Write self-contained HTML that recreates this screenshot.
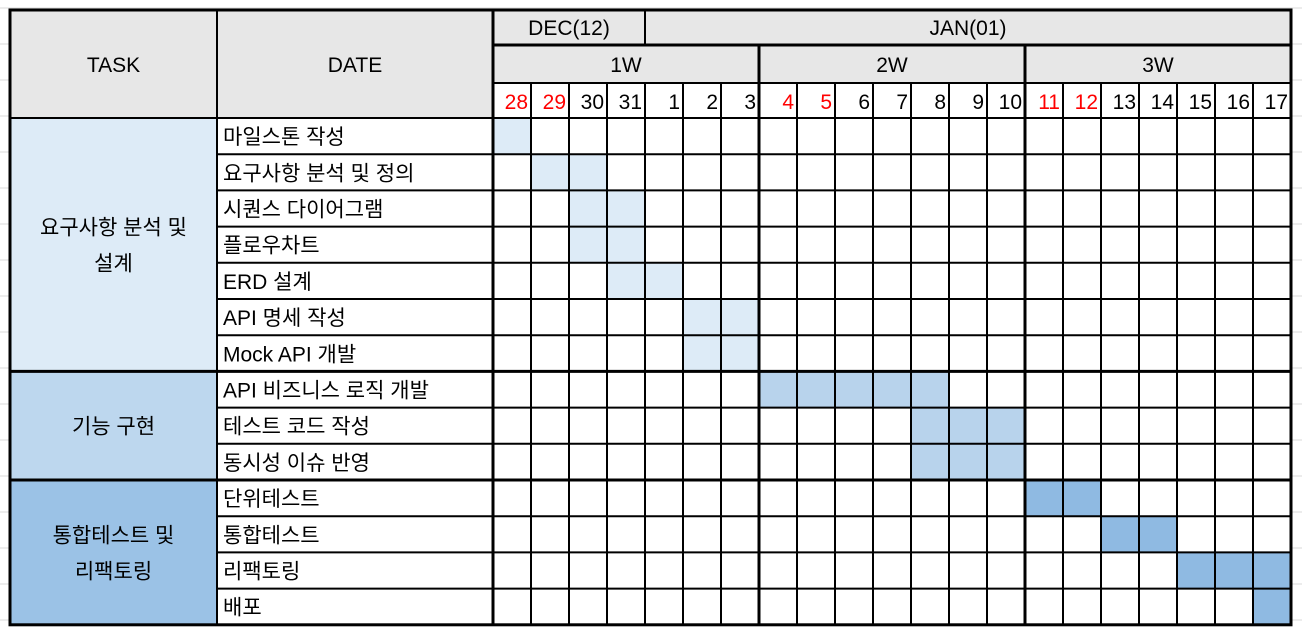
<!DOCTYPE html>
<html><head><meta charset="utf-8"><style>
html,body{margin:0;padding:0;background:#fff;}
svg{display:block;font-family:"Liberation Sans","Noto Sans CJK KR",sans-serif;}
</style></head><body>
<svg id="c" width="1302" height="632"></svg>
<script>
const days = [28,29,30,31,1,2,3,4,5,6,7,8,9,10,11,12,13,14,15,16,17];
const weekend = [true,true,false,false,false,false,false,true,true,false,false,false,false,false,true,true,false,false,false,false,false];
const weeks = ["1W","2W","3W"];
const tasks = ["마일스톤 작성","요구사항 분석 및 정의","시퀀스 다이어그램","플로우차트","ERD 설계","API 명세 작성","Mock API 개발","API 비즈니스 로직 개발","테스트 코드 작성","동시성 이슈 반영","단위테스트","통합테스트","리팩토링","배포"];
const taskStart = [0,1,2,2,3,5,5,7,11,11,14,16,18,20];
const taskEnd   = [0,2,3,3,4,6,6,11,13,13,15,17,20,20];
const taskGroup = [0,0,0,0,0,0,0,1,1,1,2,2,2,2];
const groupNames = [["요구사항 분석 및","설계"],["기능 구현"],["통합테스트 및","리팩토링"]];
const groupFill = ["#DDEBF7","#BDD7EE","#9BC2E6"];
const barFill = ["#DDEBF7","#B8D3EC","#8FBAE2"];

const svg=document.getElementById('c');const NS='http://www.w3.org/2000/svg';
function el(t,a,txt){const e=document.createElementNS(NS,t);for(const k in a)e.setAttribute(k,a[k]);if(txt!==undefined)e.textContent=txt;svg.appendChild(e);return e;}
const X0=10,X1=217,X2=493,CW=38,Y0=10,YD=45,YW=83,YH=118,RH=36.2,FS=21;
const xDay=i=>X2+i*CW, yRow=i=>YH+i*RH;
const XR=xDay(days.length), YB=yRow(tasks.length);
for(let y=8;y<632;y+=36){el('line',{x1:0,x2:1302,y1:y,y2:y,stroke:'#d8d8d8','stroke-width':1});}
let r=el('rect',{x:X0,y:Y0,width:XR-X0,height:YH-Y0,fill:'#E7E7E7'});

r=el('rect',{x:X2,y:YW,width:XR-X2,height:YH-YW,fill:'#fff'});

r=el('rect',{x:X1,y:YH,width:XR-X1,height:YB-YH,fill:'#fff'});
const gStart=[],gEnd=[];
taskGroup.forEach((g,i)=>{if(gStart[g]===undefined)gStart[g]=i;gEnd[g]=i;});
groupNames.forEach((n,g)=>{
 const y1=yRow(gStart[g]),y2=yRow(gEnd[g]+1);
 let rr=el('rect',{x:X0,y:y1,width:X1-X0,height:y2-y1,fill:groupFill[g]});
 
 const cy=(y1+y2)/2, off=(n.length-1)*18;
 n.forEach((s,k)=>{let t=el('text',{x:(X0+X1)/2,y:cy-off+k*36+8,'font-size':FS,'text-anchor':'middle',fill:'#000'},s);
 });
});
tasks.forEach((n,i)=>{
 const g=taskGroup[i];
 let b=el('rect',{x:xDay(taskStart[i]),y:yRow(i),width:(taskEnd[i]-taskStart[i]+1)*CW,height:RH,fill:barFill[g]});
 
 let t=el('text',{x:X1+6,y:yRow(i)+RH/2+8,'font-size':FS,fill:'#000'},n);
 
});
let t=el('text',{x:(X0+X1)/2,y:72,'font-size':FS,'text-anchor':'middle'},'TASK');

t=el('text',{x:(X1+X2)/2,y:72,'font-size':FS,'text-anchor':'middle'},'DATE');

t=el('text',{x:(X2+xDay(4))/2,y:35,'font-size':FS,'text-anchor':'middle'},'DEC(12)');

t=el('text',{x:(xDay(4)+XR)/2,y:35,'font-size':FS,'text-anchor':'middle'},'JAN(01)');

weeks.forEach((w,k)=>{let tt=el('text',{x:xDay(k*7+3.5),y:72,'font-size':FS,'text-anchor':'middle'},w);
 });
days.forEach((d,i)=>{let tt=el('text',{x:xDay(i+1)-3,y:109,'font-size':FS,'text-anchor':'end',fill:weekend[i]?'#FF0000':'#000'},d);
 });
function L(x1,y1,x2,y2,w){el('line',{x1,y1,x2,y2,stroke:'#000','stroke-width':w});}
for(let i=1;i<days.length;i++){L(xDay(i),YW,xDay(i),YB,i%7===0?3:2);}
L(xDay(7),YD,xDay(7),YW,3);L(xDay(14),YD,xDay(14),YW,3);
L(xDay(4),Y0,xDay(4),YD,2);
for(let i=1;i<tasks.length;i++){const th=taskGroup[i]!==taskGroup[i-1];L(th?X0:X1,yRow(i),XR,yRow(i),th?3:2);}
L(X2,YW,XR,YW,2);L(X2,YD,XR,YD,3);
L(X0,YH,XR,YH,2);
L(X1,Y0,X1,YB,2);L(X2,Y0,X2,YB,3);
el('rect',{x:X0,y:Y0,width:XR-X0,height:YB-Y0,fill:'none',stroke:'#000','stroke-width':3});
</script>
</body></html>
